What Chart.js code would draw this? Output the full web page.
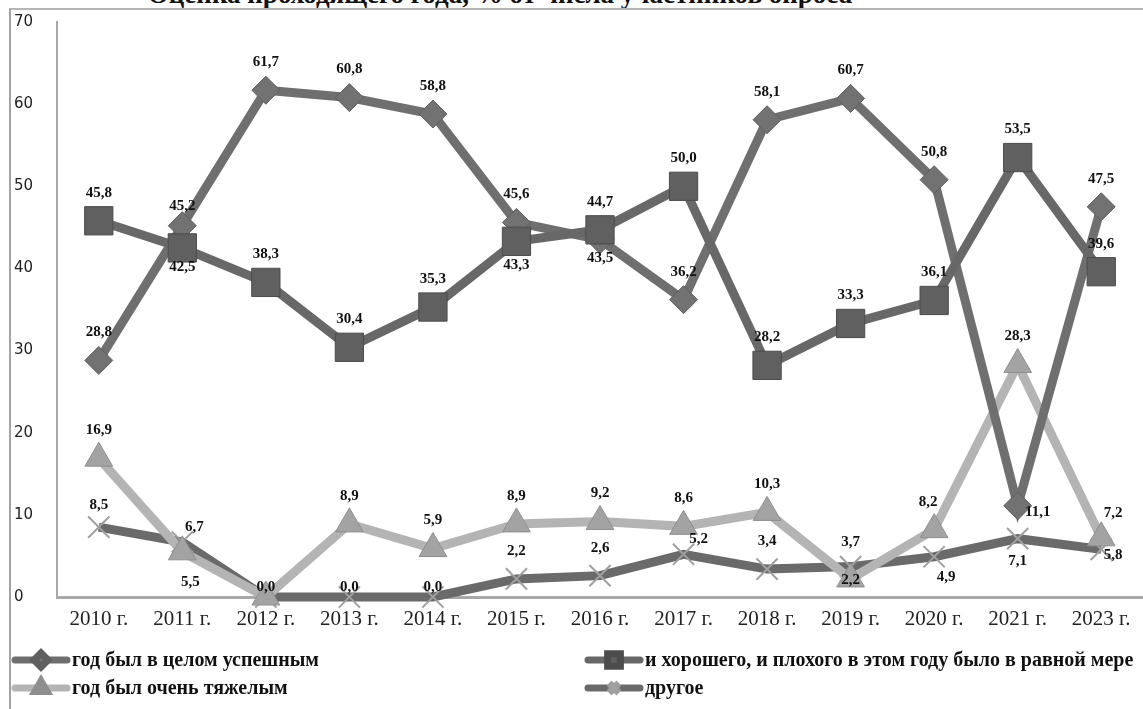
<!DOCTYPE html>
<html>
<head>
<meta charset="utf-8">
<style>
html, body { margin: 0; padding: 0; background: #fff; overflow: hidden; }
#wrap { position: relative; width: 1143px; height: 709px; overflow: hidden; }
#frame { position: absolute; left: 9px; top: 8px; right: -10px; bottom: -10px; border-left: 2px solid #a3a3a3; border-top: 2px solid #b5b5b5; }
#title { position: absolute; left: 0; width: 1000px; top: -21px; text-align: center; font: bold 27px "Liberation Serif", serif; color: #111; white-space: nowrap; }
canvas { position: absolute; left: 0; top: 0; }
</style>
<script src="https://cdn.jsdelivr.net/npm/chart.js@4"></script>
</head>
<body>
<div id="wrap">
  <div id="title">Оценка проходящего года, % от числа участников опроса</div>
  <div id="frame"></div>
  <canvas id="myChart" width="1143" height="709"></canvas>
</div>
<script>
const years = ['2010 г.', '2011 г.', '2012 г.', '2013 г.', '2014 г.', '2015 г.', '2016 г.',
               '2017 г.', '2018 г.', '2019 г.', '2020 г.', '2021 г.', '2023 г.'];
const successful = [28.8, 45.2, 61.7, 60.8, 58.8, 45.6, 43.5, 36.2, 58.1, 60.7, 50.8, 11.1, 47.5];
const mixed      = [45.8, 42.5, 38.3, 30.4, 35.3, 43.3, 44.7, 50.0, 28.2, 33.3, 36.1, 53.5, 39.6];
const hard       = [16.9, 5.5, 0.0, 8.9, 5.9, 8.9, 9.2, 8.6, 10.3, 2.2, 8.2, 28.3, 7.2];
const other      = [8.5, 6.7, 0.0, 0.0, 0.0, 2.2, 2.6, 5.2, 3.4, 3.7, 4.9, 7.1, 5.8];
const seriesNames = ['год был в целом успешным',
                     'и хорошего, и плохого в этом году было в равной мере',
                     'год был очень тяжелым',
                     'другое'];

// where each value label sits relative to its point [dx, dy]; null = no label
const labelPos = {
  0: {1: [0, -20], 6: [0, 18], 11: [20, 6]},
  1: {1: [0, 19], 5: [0, 24]},
  2: {1: [8, 30], 2: null, 9: [0, 1], 10: [-6, -28], 12: [12, -25]},
  3: {0: [0, -22], 1: [12, -15], 2: [0, -10], 3: [0, -10], 4: [0, -10], 7: [15, -15],
      9: [0, -24], 10: [12, 20], 11: [0, 22], 12: [12, 6]}
};

const fmt = v => v.toFixed(1).replace('.', ',');

const valueLabels = {
  id: 'valueLabels',
  afterDatasetsDraw(chart) {
    const ctx = chart.ctx;
    ctx.save();
    ctx.font = 'bold 15px "Liberation Serif", serif';
    ctx.fillStyle = '#111';
    ctx.textAlign = 'center';
    ctx.textBaseline = 'middle';
    chart.data.datasets.forEach((ds, i) => {
      const meta = chart.getDatasetMeta(i);
      meta.data.forEach((pt, j) => {
        const custom = labelPos[i] ? labelPos[i][j] : undefined;
        if (custom === null) return;
        const off = custom || [0, -28];
        ctx.fillText(fmt(ds.data[j]), pt.x + off[0], pt.y + off[1]);
      });
    });
    ctx.restore();
  }
};

const bottomLegend = {
  id: 'bottomLegend',
  afterDraw(chart) {
    const ctx = chart.ctx;
    const slots = [[12, 660], [585, 660], [12, 688], [585, 688]];
    ctx.save();
    chart.data.datasets.forEach((ds, k) => {
      const [x, y] = slots[k];
      ctx.strokeStyle = ds.borderColor;
      ctx.lineWidth = 7;
      ctx.lineCap = 'round';
      ctx.beginPath();
      ctx.moveTo(x + 3, y);
      ctx.lineTo(x + 55, y);
      ctx.stroke();
      ctx.lineCap = 'butt';
      ctx.fillStyle = ds.pointBackgroundColor;
      ctx.strokeStyle = ds.pointBorderColor;
      Chart.helpers.drawPoint(ctx, {
        pointStyle: ds.pointStyle,
        radius: ds.pointStyle === 'rect' ? 9 : 7,
        borderWidth: 1
      }, x + 29, y);
      ctx.fillStyle = '#111';
      ctx.font = 'bold 20px "Liberation Serif", serif';
      ctx.textAlign = 'left';
      ctx.textBaseline = 'middle';
      ctx.fillText(ds.label, x + 60, y + 1);
    });
    ctx.restore();
  }
};

const ctx = document.getElementById('myChart').getContext('2d');
const chart = new Chart(ctx, {
  type: 'line',
  data: {
    labels: years,
    datasets: [
      {
        label: seriesNames[0], data: successful,
        borderColor: '#6f6f6f', borderWidth: 9, clip: false,
        pointStyle: 'rectRot', pointRadius: 14, pointHoverRadius: 14,
        pointBackgroundColor: '#727272', pointBorderColor: '#5f5f5f', pointBorderWidth: 1,
        order: 2
      },
      {
        label: seriesNames[1], data: mixed,
        borderColor: '#686868', borderWidth: 9, clip: false,
        pointStyle: 'rect', pointRadius: 20, pointHoverRadius: 20,
        pointBackgroundColor: '#606060', pointBorderColor: '#4c4c4c', pointBorderWidth: 1,
        order: 1
      },
      {
        label: seriesNames[2], data: hard,
        borderColor: '#b4b4b4', borderWidth: 9, clip: false,
        pointStyle: 'triangle', pointRadius: 16, pointHoverRadius: 16,
        pointBackgroundColor: '#a3a3a3', pointBorderColor: '#8e8e8e', pointBorderWidth: 1,
        order: 3
      },
      {
        label: seriesNames[3], data: other,
        borderColor: '#6a6a6a', borderWidth: 9, clip: false,
        pointStyle: 'crossRot', pointRadius: 15, pointHoverRadius: 15,
        pointBackgroundColor: '#9e9e9e', pointBorderColor: '#a0a0a0', pointBorderWidth: 2,
        order: 4
      }
    ]
  },
  options: {
    responsive: false,
    animation: false,
    layout: { autoPadding: false, padding: { left: 14, top: 22, right: 0, bottom: 0 } },
    plugins: {
      legend: { display: false },
      tooltip: { enabled: false }
    },
    scales: {
      x: {
        offset: true,
        grid: { display: false, drawTicks: false },
        border: { display: true, color: '#a8a8a8', width: 3 },
        ticks: { color: '#222', font: { family: '"Liberation Serif", serif', size: 21 }, padding: 10, maxRotation: 0, autoSkip: false },
        afterFit: s => { s.height = 112; s.paddingRight = 0; s.paddingLeft = 0; }
      },
      y: {
        min: 0, max: 70,
        grid: { display: false, drawTicks: false },
        border: { display: true, color: '#a8a8a8', width: 2 },
        ticks: { stepSize: 10, color: '#222', crossAlign: 'far', font: { family: '"DejaVu Sans", sans-serif', size: 15 } },
        afterFit: s => { s.width = 43; }
      }
    }
  },
  plugins: [valueLabels, bottomLegend]
});
</script>
</body>
</html>
